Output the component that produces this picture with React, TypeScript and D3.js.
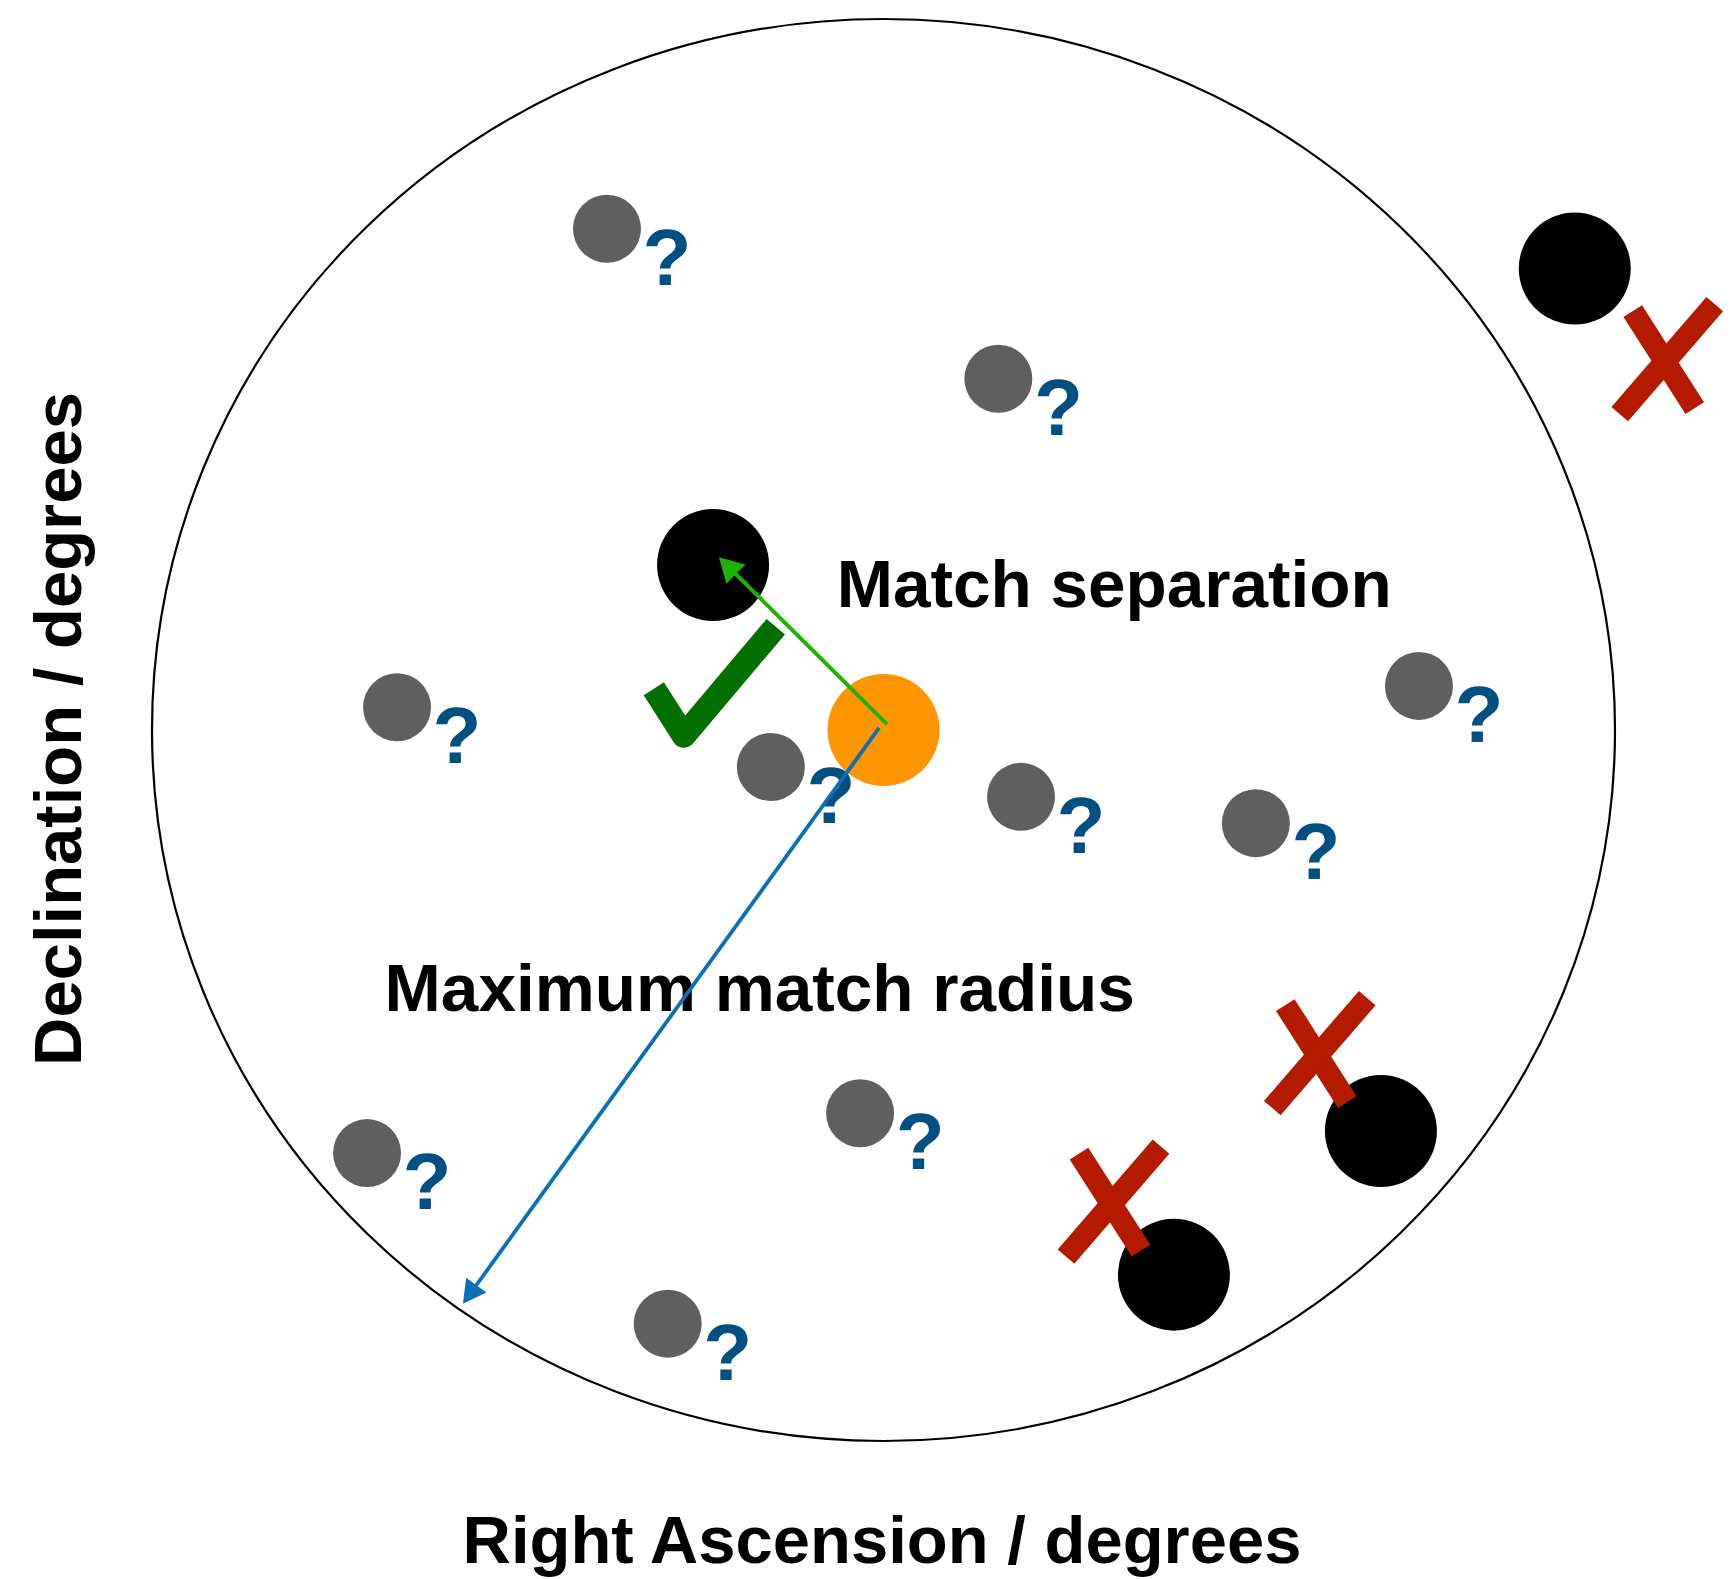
import React from "react";
import * as d3 from "d3";

// Field coordinates: offsets from the search centre, in units of the maximum match radius
const grayX = [-0.378, 0.157, -0.665, -0.154, 0.188, 0.732, 0.509, -0.032, -0.706, -0.295];
const grayY = [0.705, 0.494, 0.032, -0.052, -0.094, 0.062, -0.131, -0.539, -0.595, -0.835];

const blackX = [-0.233, 0.945, 0.68, 0.397];
const blackY = [0.232, 0.649, -0.564, -0.766];

const targetX = [0];
const targetY = [0];

const rejectX = [1.068, 0.593, 0.311];
const rejectY = [0.523, -0.453, -0.662];

const acceptX = [-0.273];
const acceptY = [-0.008];

const sepArrow = [[0.005, 0.008], [-0.225, 0.243]];
const radArrow = [[-0.006, 0.003], [-0.575, -0.807]];

const labels = ["Match separation", "Maximum match radius"];
const labelX = [-0.064, -0.682];
const labelY = [0.173, -0.395];

const xTitle = "Right Ascension / degrees";
const yTitle = "Declination / degrees";

const W = 1733;
const H = 1579;

const x = d3.scaleLinear().domain([-1, 1]).range([152, 1615]);
const y = d3.scaleLinear().domain([-1, 1]).range([1441, 19]);

const FONT = "'Liberation Sans', Arial, Helvetica, sans-serif";

function Arrow({ pts, color, width, headLen, headW }: any) {
  const x1 = x(pts[0][0]);
  const y1 = y(pts[0][1]);
  const x2 = x(pts[1][0]);
  const y2 = y(pts[1][1]);
  const dx = x2 - x1;
  const dy = y2 - y1;
  const L = Math.hypot(dx, dy);
  const ux = dx / L;
  const uy = dy / L;
  const bx = x2 - ux * headLen;
  const by = y2 - uy * headLen;
  const nx = -uy;
  const ny = ux;
  const head = [
    [x2, y2],
    [bx + (nx * headW) / 2, by + (ny * headW) / 2],
    [bx - (nx * headW) / 2, by - (ny * headW) / 2],
  ];
  return (
    <g>
      <line x1={x1} y1={y1} x2={bx + ux * 2} y2={by + uy * 2} stroke={color} strokeWidth={width} />
      <polygon points={head.map((p) => p.join(",")).join(" ")} fill={color} />
    </g>
  );
}

export default function App() {
  const line = d3.line();
  const crossA = line([[-32, -47], [30, 50]]) as string;
  const crossB = line([[50, -54], [-45, 56]]) as string;
  const tick = line([[-30, -47], [0, 0], [92, -109]]) as string;

  return (
    <svg
      width={W}
      height={H}
      style={{ position: "absolute", left: 0, top: 0, background: "#fff" }}
    >
      <rect width={W} height={H} fill="#fff" />
      <ellipse cx={x(0)} cy={y(0)} rx={x(1) - x(0)} ry={y(-1) - y(0)} fill="none" stroke="#000" strokeWidth={2.2} />

      {targetX.map((v, i) => (
        <circle key={"t" + i} cx={x(v)} cy={y(targetY[i])} r={56} fill="#ff9500" />
      ))}

      {grayX.map((v, i) => (
        <circle key={"g" + i} cx={x(v)} cy={y(grayY[i])} r={34} fill="#5f5f5f" />
      ))}
      {grayX.map((v, i) => (
        <text
          key={"q" + i}
          x={x(v) + 60}
          y={y(grayY[i]) + 56}
          textAnchor="middle"
          fontFamily={FONT}
          fontWeight="bold"
          fontSize={80}
          fill="#024f82"
        >
          ?
        </text>
      ))}

      {blackX.map((v, i) => (
        <circle key={"b" + i} cx={x(v)} cy={y(blackY[i])} r={56} fill="#000" />
      ))}

      {rejectX.map((v, i) => (
        <g key={"x" + i} transform={`translate(${x(v)},${y(rejectY[i])})`}>
          <path d={crossA} stroke="#b41a00" strokeWidth={22} fill="none" />
          <path d={crossB} stroke="#b41a00" strokeWidth={22} fill="none" />
        </g>
      ))}

      {acceptX.map((v, i) => (
        <path
          key={"c" + i}
          transform={`translate(${x(v)},${y(acceptY[i])})`}
          d={tick}
          stroke="#037000"
          strokeWidth={24}
          strokeLinejoin="round"
          fill="none"
        />
      ))}

      {labels.map((t, i) => (
        <text
          key={"l" + i}
          x={x(labelX[i])}
          y={y(labelY[i])}
          fontFamily={FONT}
          fontWeight="bold"
          fontSize={67.5}
          fill="#000"
        >
          {t}
        </text>
      ))}

      <Arrow pts={sepArrow} color="#20b000" width={4} headLen={24} headW={27} />
      <Arrow pts={radArrow} color="#0a70b8" width={3.8} headLen={23} headW={25} />

      <text x={882} y={1563} textAnchor="middle" fontFamily={FONT} fontWeight="bold" fontSize={67} fill="#000">
        {xTitle}
      </text>
      <text
        transform="translate(81,729) rotate(-90)"
        textAnchor="middle"
        fontFamily={FONT}
        fontWeight="bold"
        fontSize={67}
        fill="#000"
      >
        {yTitle}
      </text>
    </svg>
  );
}
